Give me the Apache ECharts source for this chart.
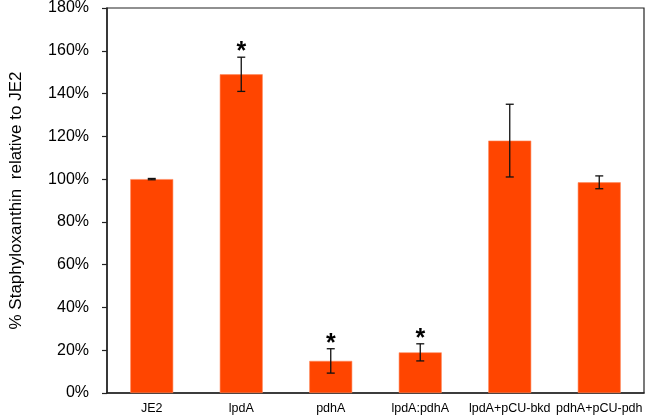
<!DOCTYPE html>
<html>
<head>
<meta charset="utf-8">
<script src="https://cdn.jsdelivr.net/npm/echarts@6/dist/echarts.min.js"></script>
<style>
  html, body { margin: 0; padding: 0; background: #fff; }
  #main { width: 645px; height: 416px; }
</style>
</head>
<body>
<div id="main"></div>
<script>
// data (percent of JE2)
var strains = ["JE2", "lpdA", "pdhA", "lpdA:pdhA", "lpdA+pCU-bkd", "pdhA+pCU-pdh"];
var meanPct = [100, 149, 15, 19, 118, 98.5];
var errPct = [0.3, 8, 5.7, 4, 17, 3];
var signif = [false, true, true, true, false, false];
var yTicks = [0, 20, 40, 60, 80, 100, 120, 140, 160, 180];

var FONT = "Liberation Sans, Arial, sans-serif";
var chart = echarts.init(document.getElementById("main"));

var errData = strains.map(function (s, i) {
    return [i, meanPct[i] - errPct[i], meanPct[i] + errPct[i], signif[i] ? 1 : 0];
});

chart.setOption({
    animation: false,
    grid: {
        left: 100, right: 1, top: 5, bottom: 23,
        show: true, borderColor: "#222", borderWidth: 1.2
    },
    xAxis: {
        type: "category",
        data: strains,
        axisLine: { lineStyle: { color: "#222", width: 1.5 } },
        axisTick: { show: false },
        axisLabel: { color: "#000", fontFamily: FONT, fontSize: 12.5, margin: 9, interval: 0 }
    },
    yAxis: {
        type: "value",
        min: yTicks[0],
        max: yTicks[yTicks.length - 1],
        interval: 20,
        name: "% Staphyloxanthin  relative to JE2",
        nameLocation: "middle",
        nameGap: 82,
        nameTextStyle: { color: "#000", fontFamily: FONT, fontSize: 17 },
        axisLine: { show: true, lineStyle: { color: "#222", width: 1.5 } },
        axisTick: { show: true, length: 5, lineStyle: { color: "#222", width: 1.2 } },
        splitLine: { show: false },
        axisLabel: {
            color: "#000", fontFamily: FONT, fontSize: 16, margin: 18,
            formatter: function (v) { return v + "%"; }
        }
    },
    series: [
        {
            type: "bar",
            data: meanPct,
            barWidth: "48%",
            itemStyle: { color: "#FF4500", borderColor: "#FF8A5C", borderWidth: 0.6 }
        },
        {
            type: "custom",
            data: errData,
            z: 10,
            renderItem: function (params, api) {
                var x = api.value(0);
                var lo = api.coord([x, api.value(1)]);
                var hi = api.coord([x, api.value(2)]);
                var cap = 4;
                var st = { stroke: "#111", lineWidth: 1.3 };
                var kids = [
                    { type: "line", shape: { x1: lo[0], y1: lo[1], x2: hi[0], y2: hi[1] }, style: st },
                    { type: "line", shape: { x1: lo[0] - cap, y1: lo[1], x2: lo[0] + cap, y2: lo[1] }, style: st },
                    { type: "line", shape: { x1: hi[0] - cap, y1: hi[1], x2: hi[0] + cap, y2: hi[1] }, style: st }
                ];
                if (api.value(3)) {
                    kids.push({
                        type: "text",
                        x: hi[0], y: hi[1] - 5,
                        style: {
                            text: "*", fill: "#000", font: "bold 25px " + FONT,
                            align: "center", verticalAlign: "middle"
                        }
                    });
                }
                return { type: "group", children: kids };
            }
        }
    ]
});
</script>
</body>
</html>
